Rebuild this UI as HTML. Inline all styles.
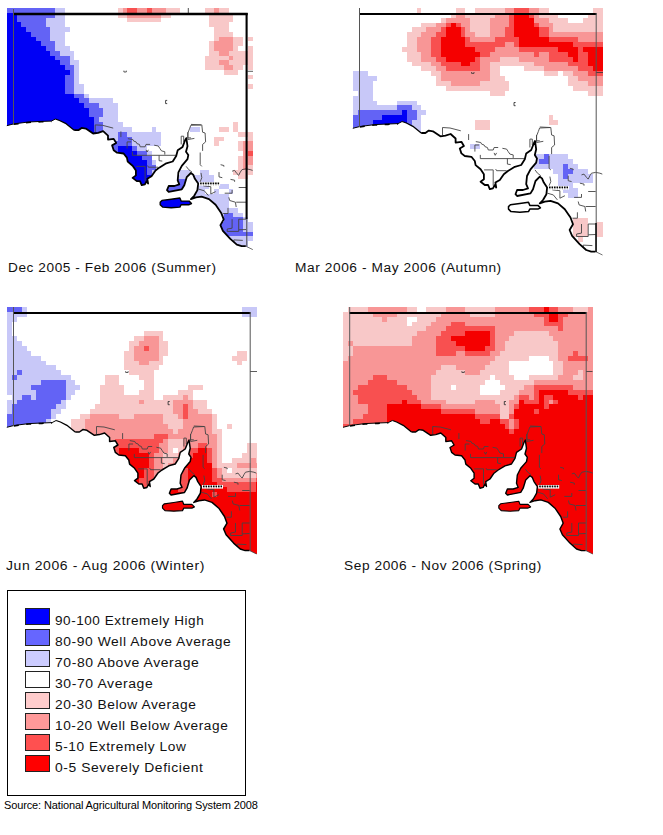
<!DOCTYPE html>
<html><head><meta charset="utf-8"><title>Rainfall deciles</title>
<style>
html,body{margin:0;padding:0;background:#fff;}
body{width:663px;height:835px;position:relative;overflow:hidden;font-family:"Liberation Sans",sans-serif;}
svg{position:absolute;left:0;top:0;}
.lab{position:absolute;font-size:12px;line-height:14px;color:#111;white-space:nowrap;letter-spacing:0.5px;transform-origin:0 0;}
.leg{position:absolute;left:7px;top:590px;width:237px;height:204px;border:1px solid #000;}
.sw{position:absolute;left:25px;width:23px;height:15px;border:1px solid #222;}
.lt{position:absolute;left:55px;font-size:12px;line-height:14px;color:#111;white-space:nowrap;letter-spacing:0.5px;transform-origin:0 0;}
.src{position:absolute;left:4px;top:798.8px;font-size:11px;line-height:13px;color:#000;white-space:nowrap;letter-spacing:-0.13px;}
</style></head><body>
<svg width="663" height="835" viewBox="0 0 663 835">
<g shape-rendering="crispEdges">
<path fill="#6363f5" d="M7 8h48v5h-48zM17 13h38v5h-38zM17 18h29v4h-29zM21 22h25v5h-25zM26 27h24v5h-24zM31 32h19v5h-19zM36 37h14v4h-14zM41 41h14v5h-14zM46 46h9v5h-9zM50 51h10v5h-10zM55 56h15v4h-15zM60 60h10v5h-10zM65 65h9v5h-9zM65 75h9v19h-9zM70 70h4v5h-4zM74 94h10v4h-10zM79 98h10v5h-10zM84 103h15v5h-15zM89 108h14v9h-14zM94 117h5v5h-5zM94 122h9v10h-9zM99 132h4v118h-4zM118 132h9v5h-9zM118 137h14v4h-14zM113 141h19v5h-19zM113 146h5v104h-5zM132 146h5v5h-5zM137 151h10v5h-10zM142 156h10v4h-10zM147 160h5v5h-5zM147 170h5v5h-5zM147 184h5v66h-5zM147 165h9v5h-9zM171 179h19v5h-19zM166 184h24v10h-24zM224 213h9v4h-9zM224 217h19v5h-19zM219 222h24v10h-24zM219 232h34v4h-34z"/>
<path fill="#c8c8f8" d="M55 8h10v10h-10zM55 41h10v5h-10zM46 18h19v9h-19zM50 27h20v5h-20zM50 32h15v9h-15zM55 46h15v5h-15zM60 51h14v5h-14zM70 56h4v4h-4zM70 60h9v5h-9zM74 65h5v19h-5zM74 84h10v10h-10zM84 94h5v4h-5zM89 98h24v5h-24zM99 103h19v5h-19zM99 117h19v5h-19zM103 108h15v9h-15zM103 132h15v9h-15zM103 122h20v5h-20zM103 127h29v5h-29zM152 127h4v5h-4zM152 160h4v5h-4zM152 170h4v80h-4zM190 127h10v5h-10zM127 132h34v5h-34zM132 137h29v9h-29zM103 141h10v109h-10zM137 146h10v5h-10zM147 151h5v5h-5zM180 170h10v5h-10zM200 170h9v5h-9zM171 175h43v4h-43zM166 179h5v5h-5zM190 179h24v5h-24zM161 184h5v10h-5zM190 184h19v5h-19zM219 184h10v5h-10zM190 189h15v5h-15zM214 189h5v5h-5zM229 189h4v5h-4zM166 194h63v4h-63zM209 198h20v10h-20zM209 208h29v5h-29zM209 213h15v9h-15zM233 213h10v4h-10zM243 217h5v5h-5zM209 222h10v14h-10zM243 222h10v10h-10zM209 236h44v5h-44zM209 241h39v9h-39z"/>
<path fill="#f8c8c8" d="M118 8h5v5h-5zM166 8h14v5h-14zM205 8h9v5h-9zM219 8h10v5h-10zM219 127h10v5h-10zM118 13h9v5h-9zM161 13h10v5h-10zM209 13h24v9h-24zM127 18h34v4h-34zM209 22h20v5h-20zM214 27h15v5h-15zM214 32h19v5h-19zM214 37h5v4h-5zM214 141h5v5h-5zM233 37h10v9h-10zM233 65h10v5h-10zM248 37h5v4h-5zM248 46h5v5h-5zM248 65h5v5h-5zM248 75h5v4h-5zM248 84h5v5h-5zM248 137h5v4h-5zM248 165h5v5h-5zM209 41h5v10h-5zM233 46h5v5h-5zM233 122h5v10h-5zM209 51h10v5h-10zM229 51h24v5h-24zM229 60h24v5h-24zM205 56h24v4h-24zM233 56h20v4h-20zM233 170h20v5h-20zM205 60h14v5h-14zM205 65h19v5h-19zM224 70h14v5h-14zM238 132h15v5h-15zM214 137h10v4h-10zM238 141h5v10h-5zM238 156h5v14h-5zM238 175h10v4h-10z"/>
<path fill="#f89696" d="M123 8h4v5h-4zM137 8h10v5h-10zM152 8h14v5h-14zM214 8h5v5h-5zM127 13h34v5h-34zM219 37h14v4h-14zM214 41h19v10h-19zM219 51h10v5h-10zM219 60h10v5h-10zM229 56h4v4h-4zM224 65h9v5h-9zM243 141h10v10h-10zM243 156h10v9h-10zM243 151h5v5h-5zM243 165h5v5h-5z"/>
<path fill="#f85050" d="M127 8h10v5h-10zM147 8h5v5h-5zM248 151h5v5h-5z"/>
<path fill="#0000f5" d="M7 13h10v9h-10zM7 22h14v5h-14zM7 27h19v5h-19zM7 32h24v5h-24zM7 37h29v4h-29zM7 41h34v5h-34zM7 46h39v5h-39zM7 51h43v5h-43zM7 56h48v4h-48zM7 60h53v5h-53zM7 65h58v5h-58zM7 75h58v19h-58zM7 70h63v5h-63zM7 94h67v4h-67zM7 98h72v5h-72zM7 103h77v5h-77zM7 108h82v9h-82zM7 117h87v15h-87zM7 132h92v118h-92zM118 146h14v5h-14zM118 151h19v5h-19zM118 156h24v4h-24zM118 160h29v15h-29zM118 184h29v66h-29zM118 175h34v9h-34z"/>
</g>
<path fill="#fff" d="M6.0 126.0 L6.8 125.7 L13.6 123.9 L28.4 122.0 L41.2 121.4 L51.4 121.1 L55.4 119.0 L59.5 120.5 L66.1 123.7 L74.2 130.2 L78.4 130.2 L81.6 127.9 L85.8 128.6 L93.1 133.5 L98.1 132.8 L103.1 131.2 L108.0 135.6 L108.0 139.6 L113.7 138.9 L116.2 143.0 L112.1 145.4 L113.7 150.2 L117.1 152.7 L123.6 153.5 L126.9 157.6 L127.7 161.6 L132.6 165.8 L135.9 170.5 L135.9 175.4 L132.6 177.9 L136.8 181.1 L140.0 181.1 L141.7 185.2 L144.9 184.4 L146.6 181.1 L148.1 183.6 L147.3 178.8 L151.5 176.2 L155.5 170.5 L159.6 167.4 L166.3 163.3 L172.7 161.5 L176.2 156.0 L177.7 150.2 L182.6 146.9 L185.0 140.5 L186.3 138.1 L187.5 146.2 L186.0 151.8 L188.3 155.1 L187.5 159.2 L181.8 165.8 L178.4 172.3 L177.7 180.3 L179.3 184.4 L174.4 186.0 L168.7 186.0 L167.0 190.1 L168.7 191.9 L181.8 189.3 L184.3 185.2 L186.7 177.2 L190.9 173.0 L193.2 174.7 L194.9 178.8 L198.2 183.6 L197.4 190.1 L194.2 195.8 L190.9 199.1 L195.9 197.4 L201.6 196.7 L209.0 199.1 L215.6 204.8 L221.2 212.9 L223.7 219.4 L220.4 225.1 L222.9 230.8 L230.3 238.9 L236.8 244.7 L241.7 246.2 L245.8 246.2 L252.8 249.6 L254.8 249.6 L254.8 253.5 L6.0 253.5 Z"/>
<path fill="#0000f5" stroke="#000" stroke-width="1.4" stroke-linejoin="round" d="M160.2 202.2 L162.0 200.4 L171.2 199.2 L179.9 198.0 L181.1 201.1 L189.1 201.1 L191.5 203.5 L189.1 204.7 L181.1 204.7 L179.9 207.1 L171.2 207.8 L162.6 207.1 L160.2 204.7 Z"/>
<path fill="none" stroke="#444" stroke-width="0.9" d="M95.2 132.2 L95.2 124.9 L102.5 125.3 L113.2 128.1"/>
<path fill="none" stroke="#444" stroke-width="0.9" d="M120.9 131.4 L120.9 137.1"/>
<path fill="none" stroke="#444" stroke-width="0.9" d="M127.1 148.5 L127.1 141.9 L131.2 141.9"/>
<path fill="none" stroke="#444" stroke-width="0.9" d="M127.9 138.7 L132.8 139.5 L133.7 141.1 L136.1 141.9 L136.9 143.6 L139.4 144.4 L140.2 146.8 L145.1 146.8 L146.0 144.4 L150.1 144.4"/>
<path fill="none" stroke="#444" stroke-width="0.9" d="M154.2 145.2 L158.3 146.0 L159.9 148.5 L161.5 150.9 L164.8 151.7 L164.8 154.6"/>
<path fill="none" stroke="#444" stroke-width="0.9" d="M132.4 151.7 L132.4 155.3 L176.3 155.3"/>
<path fill="none" stroke="#444" stroke-width="0.9" d="M159.1 155.3 L159.1 160.7 L162.3 161.1"/>
<path fill="none" stroke="#444" stroke-width="0.9" d="M136.1 166.4 L145.1 166.4 L145.1 181.8"/>
<path fill="none" stroke="#444" stroke-width="0.9" d="M147.6 165.5 L148.4 167.2 L158.3 167.2"/>
<path fill="none" stroke="#444" stroke-width="0.9" d="M146.0 149.8 L147.1 152.0 L148.4 149.8"/>
<path fill="none" stroke="#444" stroke-width="0.9" d="M181.2 144.4 L181.2 136.2 L183.7 136.2 L183.7 141.9"/>
<path fill="none" stroke="#444" stroke-width="0.9" d="M187.8 132.2 L187.8 137.9 L191.0 137.9"/>
<path fill="none" stroke="#444" stroke-width="0.9" d="M191.0 124.4 L201.0 124.9"/>
<path fill="none" stroke="#444" stroke-width="0.9" d="M187.9 139.5 L187.9 133.0 L189.5 128.9 L190.8 125.3 L201.8 124.9 L202.6 132.2 L205.1 133.0 L205.6 141.9 L202.6 144.4 L202.6 150.9"/>
<path fill="none" stroke="#444" stroke-width="0.9" d="M187.9 139.5 L194.4 138.4"/>
<path fill="none" stroke="#444" stroke-width="0.9" d="M232.1 171.2 L234.6 170.4 L237.0 173.7 L238.7 175.3 L240.3 172.1 L242.0 169.6 L246.1 168.8 L250.1 169.6 L252.6 170.4"/>
<path fill="none" stroke="#444" stroke-width="0.9" d="M220.6 164.7 L223.9 165.5 L223.9 166.7"/>
<path fill="none" stroke="#444" stroke-width="0.9" d="M219.0 172.1 L219.0 176.9 L222.3 177.7"/>
<path fill="none" stroke="#444" stroke-width="0.9" d="M230.5 179.4 L234.6 180.2 L234.6 181.8"/>
<path fill="none" stroke="#444" stroke-width="0.9" d="M238.7 187.5 L246.1 187.5"/>
<path fill="none" stroke="#444" stroke-width="0.9" d="M224.7 193.2 L232.1 193.2 L232.1 190.0"/>
<path fill="none" stroke="#444" stroke-width="0.9" d="M228.8 197.3 L229.7 200.5 L235.4 202.2 L236.2 207.0"/>
<path fill="none" stroke="#444" stroke-width="0.9" d="M236.2 202.2 L246.1 202.2"/>
<path fill="none" stroke="#444" stroke-width="0.9" d="M223.1 213.5 L228.0 213.5 L228.0 207.9"/>
<path fill="none" stroke="#444" stroke-width="0.9" d="M232.1 219.2 L232.1 228.2 L227.2 229.0 L227.2 231.4 L238.7 231.4 L238.7 229.8 L246.1 229.5"/>
<path fill="none" stroke="#444" stroke-width="0.9" d="M238.7 229.8 L238.7 219.2 L246.1 219.2"/>
<path fill="none" stroke="#444" stroke-width="0.9" d="M233.8 242.0 L233.8 239.9 L242.8 240.4"/>
<path fill="none" stroke="#444" stroke-width="0.9" d="M200.2 152.5 L200.2 164.7 L201.8 166.4"/>
<path fill="none" stroke="#444" stroke-width="0.9" d="M201.0 172.9 L201.8 177.7 L200.2 181.8"/>
<path fill="none" stroke="#444" stroke-width="0.9" d="M186.2 166.4 L188.7 169.6 L192.0 172.1"/>
<path fill="none" stroke="#444" stroke-width="0.9" d="M203.4 185.9 L210.8 186.7 L210.8 194.0 L215.7 191.6"/>
<path fill="none" stroke="#444" stroke-width="0.9" d="M198.5 189.1 L204.3 190.8 L208.4 195.6"/>
<path fill="none" stroke="#000" stroke-width="1.0" d="M6.8 125.7 L13.6 123.9 L28.4 122.0 L41.2 121.4 L51.4 121.1 L55.4 119.0"/>
<path fill="none" stroke="#000" stroke-width="1.3" stroke-linejoin="round" d="M55.4 119.0 L59.5 120.5 L66.1 123.7 L74.2 130.2"/>
<path fill="none" stroke="#000" stroke-width="1.5" stroke-dasharray="5 7.5" d="M13.6 124.3 L28.4 122.4 L41.2 121.8 L51.4 121.5"/>
<path fill="none" stroke="#000" stroke-width="1.8" stroke-linejoin="round" d="M74.2 130.2 L78.4 130.2 L81.6 127.9 L85.8 128.6 L93.1 133.5 L98.1 132.8 L103.1 131.2 L108.0 135.6 L108.0 139.6 L113.7 138.9 L116.2 143.0 L112.1 145.4 L113.7 150.2 L117.1 152.7 L123.6 153.5 L126.9 157.6 L127.7 161.6 L132.6 165.8 L135.9 170.5 L135.9 175.4 L132.6 177.9 L136.8 181.1 L140.0 181.1 L141.7 185.2 L144.9 184.4 L146.6 181.1 L148.1 183.6 L147.3 178.8 L151.5 176.2 L155.5 170.5 L159.6 167.4 L166.3 163.3 L172.7 161.5 L176.2 156.0 L177.7 150.2 L182.6 146.9 L185.0 140.5 L186.3 138.1 L187.5 146.2 L186.0 151.8 L188.3 155.1 L187.5 159.2 L181.8 165.8 L178.4 172.3 L177.7 180.3 L179.3 184.4 L174.4 186.0 L168.7 186.0 L167.0 190.1 L168.7 191.9 L181.8 189.3 L184.3 185.2 L186.7 177.2 L190.9 173.0 L193.2 174.7 L194.9 178.8 L198.2 183.6 L197.4 190.1 L194.2 195.8 L190.9 199.1 L195.9 197.4 L201.6 196.7 L209.0 199.1 L215.6 204.8 L221.2 212.9 L223.7 219.4 L220.4 225.1 L222.9 230.8 L230.3 238.9 L236.8 244.7 L241.7 246.2 L245.8 246.2"/>
<path fill="none" stroke="#333" stroke-width="0.7" d="M245.8 246.2 L252.8 249.6"/>
<path fill="none" stroke="#333" stroke-width="0.9" d="M167.2 100.4h-1.6v3.2h1.6"/>
<path fill="none" stroke="#333" stroke-width="0.8" d="M123.9 70.6v1.4h2.4v-1.4"/>
<rect x="199.1" y="182.1" width="21" height="3.6" fill="#fff"/>
<path stroke="#000" stroke-width="1.7" stroke-dasharray="1.6 0.9" d="M200.1 183.4h19"/>
<path stroke="#666" stroke-width="0.8" stroke-dasharray="0.8 1.7" d="M200.6 184.9h18"/>
<path stroke="#222" stroke-width="0.8" fill="none" d="M188.3 8V13"/>
<path stroke="#000" stroke-width="2.3" fill="none" d="M13 14H247.7"/>
<path stroke="#000" stroke-width="2.1" fill="none" d="M246.6 13V219"/>
<path stroke="#333" stroke-width="0.8" fill="none" d="M247 71.3H253"/>
<path stroke="#444" stroke-width="1" fill="none" d="M246.8 219V246"/>
<path stroke="#555" stroke-width="1" fill="none" d="M13.5 9V124"/>
<g shape-rendering="crispEdges">
<path fill="#f8c8c8" d="M417 8h4v5h-4zM456 8h9v5h-9zM475 8h30v5h-30zM539 8h10v5h-10zM593 8h10v5h-10zM451 13h5v5h-5zM465 13h30v5h-30zM539 13h19v5h-19zM588 13h15v5h-15zM588 91h15v5h-15zM441 18h5v5h-5zM470 18h20v14h-20zM549 18h19v5h-19zM583 18h20v5h-20zM421 23h15v4h-15zM421 66h15v5h-15zM553 23h50v9h-50zM412 27h14v5h-14zM407 32h14v5h-14zM407 52h14v10h-14zM475 32h15v5h-15zM475 120h15v10h-15zM407 37h10v10h-10zM402 47h15v5h-15zM500 57h19v5h-19zM412 62h19v4h-19zM490 62h44v4h-44zM490 66h10v10h-10zM524 66h20v5h-20zM431 71h10v5h-10zM544 71h14v5h-14zM563 71h10v5h-10zM436 76h5v5h-5zM490 76h15v5h-15zM490 91h15v5h-15zM568 76h10v5h-10zM436 81h15v5h-15zM480 81h29v5h-29zM568 81h20v5h-20zM446 86h63v5h-63zM573 86h30v5h-30zM549 115h4v5h-4zM549 120h9v5h-9zM573 218h15v19h-15zM597 222h6v15h-6zM578 237h5v5h-5z"/>
<path fill="#f89696" d="M505 8h9v5h-9zM505 42h9v5h-9zM529 8h10v5h-10zM456 13h9v5h-9zM495 13h14v5h-14zM534 13h5v5h-5zM446 18h24v5h-24zM490 18h19v9h-19zM534 18h15v5h-15zM436 23h10v4h-10zM436 66h10v5h-10zM461 23h9v4h-9zM539 23h14v4h-14zM426 27h15v5h-15zM465 27h5v5h-5zM490 27h15v10h-15zM549 27h4v5h-4zM421 32h15v5h-15zM421 57h15v5h-15zM465 32h10v5h-10zM549 32h54v5h-54zM417 37h14v15h-14zM470 37h25v5h-25zM578 37h25v5h-25zM578 76h25v5h-25zM495 47h24v5h-24zM421 52h10v5h-10zM490 52h44v5h-44zM539 52h10v5h-10zM480 57h20v5h-20zM519 57h30v5h-30zM431 62h10v4h-10zM480 62h10v9h-10zM534 62h34v4h-34zM544 66h34v5h-34zM441 71h49v10h-49zM573 71h15v5h-15zM451 81h29v5h-29zM588 81h15v5h-15z"/>
<path fill="#f85050" d="M514 8h15v5h-15zM509 13h5v14h-5zM529 13h5v5h-5zM446 23h5v4h-5zM456 23h5v4h-5zM534 23h5v4h-5zM534 52h5v5h-5zM441 27h5v5h-5zM461 27h4v10h-4zM505 27h9v10h-9zM539 27h10v10h-10zM436 32h10v5h-10zM436 57h10v5h-10zM431 37h10v20h-10zM465 37h5v5h-5zM495 37h24v5h-24zM549 37h29v5h-29zM465 42h40v5h-40zM514 42h5v5h-5zM573 42h30v5h-30zM475 47h20v5h-20zM519 47h39v5h-39zM578 47h5v5h-5zM480 52h10v5h-10zM549 52h19v5h-19zM578 52h10v10h-10zM475 57h5v5h-5zM549 57h24v5h-24zM441 62h20v4h-20zM470 62h10v4h-10zM568 62h20v4h-20zM446 66h34v5h-34zM578 66h15v5h-15zM588 71h15v5h-15z"/>
<path fill="#f50000" d="M514 13h15v5h-15zM514 18h20v9h-20zM451 23h5v4h-5zM446 27h15v10h-15zM514 27h25v10h-25zM441 37h24v10h-24zM519 37h30v5h-30zM519 42h54v5h-54zM441 47h34v5h-34zM558 47h20v5h-20zM583 47h20v5h-20zM441 52h39v5h-39zM568 52h10v5h-10zM588 52h15v14h-15zM446 57h29v5h-29zM573 57h5v5h-5zM461 62h9v4h-9zM593 66h10v5h-10z"/>
<path fill="#c8c8f8" d="M353 71h15v5h-15zM353 76h24v5h-24zM353 101h24v4h-24zM353 81h20v10h-20zM353 96h20v5h-20zM358 91h15v5h-15zM397 101h20v4h-20zM353 105h44v5h-44zM412 105h9v5h-9zM412 120h9v134h-9zM353 110h5v5h-5zM417 110h9v5h-9zM417 115h4v5h-4zM470 144h10v5h-10zM534 154h10v5h-10zM549 154h19v5h-19zM534 159h5v5h-5zM549 159h24v5h-24zM534 164h29v5h-29zM568 164h10v5h-10zM568 193h10v5h-10zM553 169h10v5h-10zM573 169h15v5h-15zM558 174h5v5h-5zM568 174h25v5h-25zM558 179h35v4h-35zM558 183h15v5h-15zM563 188h15v5h-15z"/>
<path fill="#6363f5" d="M397 105h15v5h-15zM358 110h44v5h-44zM407 110h10v10h-10zM353 115h29v5h-29zM353 120h20v134h-20zM407 120h5v107h-5zM544 154h5v5h-5zM539 159h10v5h-10zM563 164h5v5h-5zM563 174h5v5h-5zM563 169h10v5h-10zM402 227h10v27h-10z"/>
<path fill="#0000f5" d="M402 110h5v5h-5zM382 115h25v5h-25zM373 120h34v107h-34zM373 227h29v27h-29z"/>
</g>
<path fill="#fff" d="M352.0 128.6 L352.8 128.3 L359.8 126.5 L374.8 124.6 L387.8 124.0 L398.1 123.6 L402.1 121.5 L406.4 123.0 L412.9 126.3 L421.2 133.0 L425.4 133.0 L428.8 130.6 L432.9 131.3 L440.4 136.3 L445.4 135.6 L450.6 134.0 L455.6 138.5 L455.6 142.6 L461.4 141.8 L463.9 146.0 L459.8 148.5 L461.4 153.4 L464.8 156.0 L471.4 156.8 L474.8 161.0 L475.6 165.1 L480.6 169.3 L483.9 174.2 L483.9 179.2 L480.6 181.7 L484.8 185.0 L488.1 185.0 L489.8 189.2 L492.9 188.4 L494.8 185.0 L496.2 187.5 L495.4 182.6 L499.8 180.0 L503.8 174.2 L507.9 171.0 L514.8 166.8 L521.2 165.0 L524.8 159.3 L526.2 153.4 L531.2 150.0 L533.8 143.5 L535.0 141.0 L536.2 149.3 L534.8 155.0 L537.0 158.4 L536.2 162.6 L530.5 169.3 L527.0 176.0 L526.2 184.2 L528.0 188.4 L523.0 190.0 L517.1 190.0 L515.5 194.2 L517.1 196.0 L530.5 193.4 L533.0 189.2 L535.5 181.0 L539.8 176.7 L542.0 178.4 L543.8 182.6 L547.1 187.6 L546.4 194.2 L543.0 200.0 L539.8 203.4 L544.8 201.7 L550.5 200.9 L558.0 203.4 L564.8 209.2 L570.5 217.5 L573.0 224.2 L569.6 230.0 L572.1 235.8 L579.6 244.1 L586.2 250.0 L591.2 251.6 L595.5 251.6 L602.5 255.0 L605.0 255.0 L605.0 258.5 L352.0 258.5 Z"/>
<rect x="596.5" y="222" width="6.5" height="15" fill="#f8c8c8"/>
<path fill="#ffffff" stroke="#000" stroke-width="1.5" stroke-linejoin="round" d="M508.5 206.6 L510.4 204.8 L519.8 203.5 L528.5 202.2 L529.8 205.4 L537.9 205.4 L540.4 207.9 L537.9 209.1 L529.8 209.1 L528.5 211.6 L519.8 212.2 L511.0 211.6 L508.5 209.1 Z"/>
<path fill="none" stroke="#444" stroke-width="0.9" d="M442.5 135.0 L442.5 127.5 L450.0 128.0 L460.8 130.8"/>
<path fill="none" stroke="#444" stroke-width="0.9" d="M468.6 134.1 L468.6 140.0"/>
<path fill="none" stroke="#444" stroke-width="0.9" d="M474.9 151.6 L474.9 145.0 L479.1 145.0"/>
<path fill="none" stroke="#444" stroke-width="0.9" d="M475.8 141.6 L480.8 142.5 L481.6 144.1 L484.1 145.0 L484.9 146.6 L487.4 147.5 L488.3 150.0 L493.2 150.0 L494.1 147.5 L498.2 147.5"/>
<path fill="none" stroke="#444" stroke-width="0.9" d="M502.4 148.3 L506.6 149.1 L508.2 151.6 L509.9 154.1 L513.2 154.9 L513.2 157.9"/>
<path fill="none" stroke="#444" stroke-width="0.9" d="M480.3 154.9 L480.3 158.6 L524.9 158.6"/>
<path fill="none" stroke="#444" stroke-width="0.9" d="M507.4 158.6 L507.4 164.1 L510.7 164.6"/>
<path fill="none" stroke="#444" stroke-width="0.9" d="M484.1 169.9 L493.2 169.9 L493.2 185.7"/>
<path fill="none" stroke="#444" stroke-width="0.9" d="M495.7 169.1 L496.6 170.7 L506.6 170.7"/>
<path fill="none" stroke="#444" stroke-width="0.9" d="M494.1 152.9 L495.2 155.3 L496.6 152.9"/>
<path fill="none" stroke="#444" stroke-width="0.9" d="M529.9 147.5 L529.9 139.1 L532.3 139.1 L532.3 145.0"/>
<path fill="none" stroke="#444" stroke-width="0.9" d="M536.5 135.0 L536.5 140.8 L539.8 140.8"/>
<path fill="none" stroke="#444" stroke-width="0.9" d="M539.8 127.0 L550.0 127.5"/>
<path fill="none" stroke="#444" stroke-width="0.9" d="M536.6 142.5 L536.6 135.8 L538.3 131.6 L539.6 128.0 L550.8 127.5 L551.6 135.0 L554.1 135.8 L554.6 145.0 L551.6 147.5 L551.6 154.1"/>
<path fill="none" stroke="#444" stroke-width="0.9" d="M536.6 142.5 L543.3 141.3"/>
<path fill="none" stroke="#444" stroke-width="0.9" d="M581.5 174.9 L584.0 174.1 L586.5 177.4 L588.2 179.1 L589.9 175.7 L591.5 173.2 L595.7 172.4 L599.9 173.2 L602.3 174.1"/>
<path fill="none" stroke="#444" stroke-width="0.9" d="M569.9 168.3 L573.2 169.1 L573.2 170.2"/>
<path fill="none" stroke="#444" stroke-width="0.9" d="M568.2 175.7 L568.2 180.7 L571.6 181.6"/>
<path fill="none" stroke="#444" stroke-width="0.9" d="M579.9 183.2 L584.0 184.1 L584.0 185.7"/>
<path fill="none" stroke="#444" stroke-width="0.9" d="M588.2 191.5 L595.7 191.5"/>
<path fill="none" stroke="#444" stroke-width="0.9" d="M574.1 197.4 L581.5 197.4 L581.5 194.0"/>
<path fill="none" stroke="#444" stroke-width="0.9" d="M578.2 201.5 L579.1 204.9 L584.9 206.5 L585.7 211.5"/>
<path fill="none" stroke="#444" stroke-width="0.9" d="M585.7 206.5 L595.7 206.5"/>
<path fill="none" stroke="#444" stroke-width="0.9" d="M572.4 218.2 L577.4 218.2 L577.4 212.3"/>
<path fill="none" stroke="#444" stroke-width="0.9" d="M581.5 224.0 L581.5 233.1 L576.6 234.0 L576.6 236.5 L588.2 236.5 L588.2 234.8 L595.7 234.5"/>
<path fill="none" stroke="#444" stroke-width="0.9" d="M588.2 234.8 L588.2 224.0 L595.7 224.0"/>
<path fill="none" stroke="#444" stroke-width="0.9" d="M583.2 247.3 L583.2 245.1 L592.4 245.6"/>
<path fill="none" stroke="#444" stroke-width="0.9" d="M549.1 155.8 L549.1 168.3 L550.8 169.9"/>
<path fill="none" stroke="#444" stroke-width="0.9" d="M549.9 176.6 L550.8 181.6 L549.1 185.7"/>
<path fill="none" stroke="#444" stroke-width="0.9" d="M535.0 169.9 L537.5 173.2 L540.8 175.7"/>
<path fill="none" stroke="#444" stroke-width="0.9" d="M552.4 189.9 L559.9 190.7 L559.9 198.2 L564.9 195.7"/>
<path fill="none" stroke="#444" stroke-width="0.9" d="M547.4 193.2 L553.3 194.9 L557.4 199.9"/>
<path fill="none" stroke="#000" stroke-width="1.0" d="M352.8 128.3 L359.8 126.5 L374.8 124.6 L387.8 124.0 L398.1 123.6 L402.1 121.5"/>
<path fill="none" stroke="#000" stroke-width="1.3" stroke-linejoin="round" d="M402.1 121.5 L406.4 123.0 L412.9 126.3 L421.2 133.0"/>
<path fill="none" stroke="#000" stroke-width="1.5" stroke-dasharray="5 7.5" d="M359.8 126.9 L374.8 125.0 L387.8 124.4 L398.1 124.0"/>
<path fill="none" stroke="#000" stroke-width="1.8" stroke-linejoin="round" d="M421.2 133.0 L425.4 133.0 L428.8 130.6 L432.9 131.3 L440.4 136.3 L445.4 135.6 L450.6 134.0 L455.6 138.5 L455.6 142.6 L461.4 141.8 L463.9 146.0 L459.8 148.5 L461.4 153.4 L464.8 156.0 L471.4 156.8 L474.8 161.0 L475.6 165.1 L480.6 169.3 L483.9 174.2 L483.9 179.2 L480.6 181.7 L484.8 185.0 L488.1 185.0 L489.8 189.2 L492.9 188.4 L494.8 185.0 L496.2 187.5 L495.4 182.6 L499.8 180.0 L503.8 174.2 L507.9 171.0 L514.8 166.8 L521.2 165.0 L524.8 159.3 L526.2 153.4 L531.2 150.0 L533.8 143.5 L535.0 141.0 L536.2 149.3 L534.8 155.0 L537.0 158.4 L536.2 162.6 L530.5 169.3 L527.0 176.0 L526.2 184.2 L528.0 188.4 L523.0 190.0 L517.1 190.0 L515.5 194.2 L517.1 196.0 L530.5 193.4 L533.0 189.2 L535.5 181.0 L539.8 176.7 L542.0 178.4 L543.8 182.6 L547.1 187.6 L546.4 194.2 L543.0 200.0 L539.8 203.4 L544.8 201.7 L550.5 200.9 L558.0 203.4 L564.8 209.2 L570.5 217.5 L573.0 224.2 L569.6 230.0 L572.1 235.8 L579.6 244.1 L586.2 250.0 L591.2 251.6 L595.5 251.6"/>
<path fill="none" stroke="#333" stroke-width="0.7" d="M595.5 251.6 L602.5 255.0"/>
<path fill="none" stroke="#333" stroke-width="0.9" d="M515.6 102.5h-1.6v3.2h1.6"/>
<path fill="none" stroke="#333" stroke-width="0.8" d="M471.6 72.0v1.4h2.4v-1.4"/>
<rect x="548.0" y="186.0" width="21" height="3.6" fill="#fff"/>
<path stroke="#000" stroke-width="1.7" stroke-dasharray="1.6 0.9" d="M549.0 187.3h19"/>
<path stroke="#666" stroke-width="0.8" stroke-dasharray="0.8 1.7" d="M549.5 188.8h18"/>
<path stroke="#333" stroke-width="0.8" fill="none" d="M596 72.5H603"/>
<path stroke="#000" stroke-width="2" fill="none" d="M359 14.0H596.5"/>
<path stroke="#555" stroke-width="1" fill="none" d="M596.2 13V252"/>
<path stroke="#000" stroke-width="1.4" fill="none" d="M596 223V252"/>
<path stroke="#555" stroke-width="1" fill="none" d="M359.5 8V127"/>
<g shape-rendering="crispEdges">
<path fill="#6363f5" d="M7 307h15v5h-15zM17 370h5v5h-5zM12 375h5v5h-5zM41 380h25v5h-25zM31 385h35v5h-35zM36 390h30v10h-30zM22 395h9v5h-9zM17 400h44v4h-44zM12 404h44v5h-44zM12 409h39v5h-39zM7 414h44v5h-44zM7 419h39v135h-39z"/>
<path fill="#c8c8f8" d="M22 307h5v5h-5zM242 307h15v10h-15zM7 312h20v5h-20zM7 346h20v5h-20zM7 317h10v5h-10zM7 336h10v5h-10zM7 370h10v5h-10zM7 400h10v4h-10zM7 322h5v14h-5zM7 375h5v5h-5zM7 404h5v10h-5zM7 341h15v5h-15zM7 351h24v5h-24zM7 385h24v5h-24zM7 356h34v5h-34zM7 380h34v5h-34zM7 361h39v4h-39zM7 365h49v5h-49zM22 370h39v5h-39zM17 375h54v5h-54zM66 380h9v5h-9zM66 390h9v5h-9zM66 385h14v5h-14zM7 390h29v5h-29zM12 395h10v5h-10zM31 395h5v5h-5zM66 395h5v5h-5zM61 400h5v4h-5zM56 404h10v5h-10zM51 409h10v5h-10zM51 414h5v5h-5zM46 419h5v135h-5z"/>
<path fill="#f8c8c8" d="M144 331h19v5h-19zM134 336h10v5h-10zM159 336h4v5h-4zM159 356h4v5h-4zM129 341h10v5h-10zM159 341h9v15h-9zM129 346h5v5h-5zM124 351h10v10h-10zM237 351h10v5h-10zM232 356h15v5h-15zM124 361h15v4h-15zM149 361h14v4h-14zM237 361h5v4h-5zM124 365h35v5h-35zM129 370h25v5h-25zM105 375h14v10h-14zM139 375h15v5h-15zM139 390h15v5h-15zM144 380h10v10h-10zM100 385h24v10h-24zM188 385h15v5h-15zM178 390h15v5h-15zM100 395h54v5h-54zM163 395h20v5h-20zM163 419h20v5h-20zM188 395h5v5h-5zM100 400h39v4h-39zM144 400h29v4h-29zM193 400h14v9h-14zM95 404h78v5h-78zM90 409h83v5h-83zM198 409h14v5h-14zM80 414h10v5h-10zM119 414h15v5h-15zM163 414h15v5h-15zM163 453h15v5h-15zM212 414h5v15h-5zM71 419h14v135h-14zM168 424h15v5h-15zM168 439h15v9h-15zM227 424h5v5h-5zM173 429h5v5h-5zM212 429h10v5h-10zM217 434h5v29h-5zM247 443h10v10h-10zM168 448h5v5h-5zM178 448h5v5h-5zM242 453h15v5h-15zM163 458h10v5h-10zM232 458h19v5h-19zM256 458h1v5h-1zM163 463h5v5h-5zM217 463h20v5h-20zM222 468h5v5h-5zM232 468h25v5h-25zM222 473h34v5h-34z"/>
<path fill="#f89696" d="M144 336h15v5h-15zM139 341h20v5h-20zM134 346h10v5h-10zM149 346h10v5h-10zM149 487h10v5h-10zM134 351h25v10h-25zM139 361h10v4h-10zM183 395h5v5h-5zM183 448h5v5h-5zM139 400h5v4h-5zM173 400h20v4h-20zM173 404h10v10h-10zM173 458h10v5h-10zM188 404h5v5h-5zM188 409h10v5h-10zM90 414h29v5h-29zM134 414h29v5h-29zM178 414h5v5h-5zM178 453h5v5h-5zM188 414h24v5h-24zM85 419h78v5h-78zM183 419h29v10h-29zM85 424h83v5h-83zM85 429h88v5h-88zM178 429h34v5h-34zM85 434h69v5h-69zM168 434h49v5h-49zM85 439h30v48h-30zM163 439h5v4h-5zM183 439h34v4h-34zM159 443h9v10h-9zM183 443h15v5h-15zM207 443h10v5h-10zM212 448h5v20h-5zM154 453h9v15h-9zM251 458h5v5h-5zM168 463h15v5h-15zM237 463h20v5h-20zM154 468h24v19h-24zM217 468h5v10h-5zM256 473h1v5h-1zM222 478h34v4h-34zM85 487h34v5h-34zM85 492h74v5h-74zM85 497h93v57h-93z"/>
<path fill="#f85050" d="M144 346h5v5h-5zM183 404h5v15h-5zM183 458h5v5h-5zM154 434h14v5h-14zM115 439h48v4h-48zM115 443h44v5h-44zM198 443h9v5h-9zM115 448h4v39h-4zM139 448h20v5h-20zM188 448h10v5h-10zM207 448h5v15h-5zM149 453h5v15h-5zM183 453h10v5h-10zM144 468h10v10h-10zM178 468h10v24h-10zM212 468h5v10h-5zM212 492h5v5h-5zM139 478h15v9h-15zM212 478h10v4h-10zM256 478h1v4h-1zM217 482h39v5h-39zM119 487h30v5h-30zM227 487h29v5h-29zM178 497h15v57h-15z"/>
<path fill="#f50000" d="M119 448h20v5h-20zM119 478h20v9h-20zM198 448h9v5h-9zM119 453h30v15h-30zM193 453h14v5h-14zM188 458h19v5h-19zM183 463h29v5h-29zM119 468h25v10h-25zM188 468h24v14h-24zM188 482h29v5h-29zM256 482h1v10h-1zM159 487h19v5h-19zM188 487h39v5h-39zM159 492h53v5h-53zM217 492h40v5h-40zM193 497h64v57h-64z"/>
</g>
<path fill="#fff" d="M6.0 427.6 L6.8 427.3 L13.8 425.5 L28.8 423.6 L41.8 423.0 L52.1 422.6 L56.1 420.5 L60.4 422.0 L66.9 425.3 L75.2 432.0 L79.4 432.0 L82.8 429.6 L86.9 430.3 L94.4 435.3 L99.4 434.6 L104.6 433.0 L109.6 437.5 L109.6 441.6 L115.4 440.8 L117.9 445.0 L113.8 447.5 L115.4 452.4 L118.8 455.0 L125.4 455.8 L128.8 460.0 L129.6 464.1 L134.6 468.3 L137.9 473.2 L137.9 478.2 L134.6 480.7 L138.8 484.0 L142.1 484.0 L143.8 488.2 L146.9 487.4 L148.8 484.0 L150.2 486.5 L149.4 481.6 L153.8 479.0 L157.8 473.2 L161.9 470.0 L168.8 465.8 L175.2 464.0 L178.8 458.3 L180.2 452.4 L185.2 449.0 L187.8 442.5 L189.0 440.0 L190.2 448.3 L188.8 454.0 L191.0 457.4 L190.2 461.6 L184.5 468.3 L181.0 475.0 L180.2 483.2 L182.0 487.4 L177.0 489.0 L171.1 489.0 L169.4 493.2 L171.1 495.0 L184.5 492.4 L187.0 488.2 L189.5 480.0 L193.8 475.7 L196.0 477.4 L197.8 481.6 L201.1 486.6 L200.4 493.2 L197.0 499.0 L193.8 502.4 L198.8 500.7 L204.5 499.9 L212.0 502.4 L218.8 508.2 L224.5 516.5 L227.0 523.2 L223.6 529.0 L226.1 534.8 L233.6 543.1 L240.2 549.0 L245.2 550.6 L249.5 550.6 L256.5 554.0 L259.0 554.0 L259.0 557.5 L6.0 557.5 Z"/>
<path fill="#f50000" stroke="#000" stroke-width="1.2" stroke-linejoin="round" d="M162.5 505.6 L164.4 503.8 L173.8 502.5 L182.5 501.2 L183.8 504.4 L191.9 504.4 L194.4 506.9 L191.9 508.1 L183.8 508.1 L182.5 510.6 L173.8 511.2 L165.0 510.6 L162.5 508.1 Z"/>
<path fill="none" stroke="#444" stroke-width="0.9" d="M96.5 434.0 L96.5 426.5 L104.0 427.0 L114.8 429.8"/>
<path fill="none" stroke="#444" stroke-width="0.9" d="M122.6 433.1 L122.6 439.0"/>
<path fill="none" stroke="#444" stroke-width="0.9" d="M128.9 450.6 L128.9 444.0 L133.1 444.0"/>
<path fill="none" stroke="#444" stroke-width="0.9" d="M129.8 440.6 L134.8 441.5 L135.6 443.1 L138.1 444.0 L138.9 445.6 L141.4 446.5 L142.3 449.0 L147.2 449.0 L148.1 446.5 L152.2 446.5"/>
<path fill="none" stroke="#444" stroke-width="0.9" d="M156.4 447.3 L160.6 448.1 L162.2 450.6 L163.9 453.1 L167.2 453.9 L167.2 456.9"/>
<path fill="none" stroke="#444" stroke-width="0.9" d="M134.3 453.9 L134.3 457.6 L178.9 457.6"/>
<path fill="none" stroke="#444" stroke-width="0.9" d="M161.4 457.6 L161.4 463.1 L164.7 463.6"/>
<path fill="none" stroke="#444" stroke-width="0.9" d="M138.1 468.9 L147.2 468.9 L147.2 484.7"/>
<path fill="none" stroke="#444" stroke-width="0.9" d="M149.7 468.1 L150.6 469.7 L160.6 469.7"/>
<path fill="none" stroke="#444" stroke-width="0.9" d="M148.1 451.9 L149.2 454.3 L150.6 451.9"/>
<path fill="none" stroke="#444" stroke-width="0.9" d="M183.9 446.5 L183.9 438.1 L186.3 438.1 L186.3 444.0"/>
<path fill="none" stroke="#444" stroke-width="0.9" d="M190.5 434.0 L190.5 439.8 L193.8 439.8"/>
<path fill="none" stroke="#444" stroke-width="0.9" d="M193.8 426.0 L204.0 426.5"/>
<path fill="none" stroke="#444" stroke-width="0.9" d="M190.6 441.5 L190.6 434.8 L192.3 430.6 L193.6 427.0 L204.8 426.5 L205.6 434.0 L208.1 434.8 L208.6 444.0 L205.6 446.5 L205.6 453.1"/>
<path fill="none" stroke="#444" stroke-width="0.9" d="M190.6 441.5 L197.3 440.3"/>
<path fill="none" stroke="#444" stroke-width="0.9" d="M235.5 473.9 L238.0 473.1 L240.5 476.4 L242.2 478.1 L243.9 474.7 L245.5 472.2 L249.7 471.4 L253.9 472.2 L256.3 473.1"/>
<path fill="none" stroke="#444" stroke-width="0.9" d="M223.9 467.3 L227.2 468.1 L227.2 469.2"/>
<path fill="none" stroke="#444" stroke-width="0.9" d="M222.2 474.7 L222.2 479.7 L225.6 480.6"/>
<path fill="none" stroke="#444" stroke-width="0.9" d="M233.9 482.2 L238.0 483.1 L238.0 484.7"/>
<path fill="none" stroke="#444" stroke-width="0.9" d="M242.2 490.5 L249.7 490.5"/>
<path fill="none" stroke="#444" stroke-width="0.9" d="M228.1 496.4 L235.5 496.4 L235.5 493.0"/>
<path fill="none" stroke="#444" stroke-width="0.9" d="M232.2 500.5 L233.1 503.9 L238.9 505.5 L239.7 510.5"/>
<path fill="none" stroke="#444" stroke-width="0.9" d="M239.7 505.5 L249.7 505.5"/>
<path fill="none" stroke="#444" stroke-width="0.9" d="M226.4 517.2 L231.4 517.2 L231.4 511.3"/>
<path fill="none" stroke="#444" stroke-width="0.9" d="M235.5 523.0 L235.5 532.1 L230.6 533.0 L230.6 535.5 L242.2 535.5 L242.2 533.8 L249.7 533.5"/>
<path fill="none" stroke="#444" stroke-width="0.9" d="M242.2 533.8 L242.2 523.0 L249.7 523.0"/>
<path fill="none" stroke="#444" stroke-width="0.9" d="M237.2 546.3 L237.2 544.1 L246.4 544.6"/>
<path fill="none" stroke="#444" stroke-width="0.9" d="M203.1 454.8 L203.1 467.3 L204.8 468.9"/>
<path fill="none" stroke="#444" stroke-width="0.9" d="M203.9 475.6 L204.8 480.6 L203.1 484.7"/>
<path fill="none" stroke="#444" stroke-width="0.9" d="M189.0 468.9 L191.5 472.2 L194.8 474.7"/>
<path fill="none" stroke="#444" stroke-width="0.9" d="M206.4 488.9 L213.9 489.7 L213.9 497.2 L218.9 494.7"/>
<path fill="none" stroke="#444" stroke-width="0.9" d="M201.4 492.2 L207.3 493.9 L211.4 498.9"/>
<path fill="none" stroke="#000" stroke-width="1.0" d="M6.8 427.3 L13.8 425.5 L28.8 423.6 L41.8 423.0 L52.1 422.6 L56.1 420.5"/>
<path fill="none" stroke="#000" stroke-width="1.3" stroke-linejoin="round" d="M56.1 420.5 L60.4 422.0 L66.9 425.3 L75.2 432.0"/>
<path fill="none" stroke="#000" stroke-width="1.5" stroke-dasharray="5 7.5" d="M13.8 425.9 L28.8 424.0 L41.8 423.4 L52.1 423.0"/>
<path fill="none" stroke="#000" stroke-width="1.5" stroke-linejoin="round" d="M75.2 432.0 L79.4 432.0 L82.8 429.6 L86.9 430.3 L94.4 435.3 L99.4 434.6 L104.6 433.0 L109.6 437.5 L109.6 441.6 L115.4 440.8 L117.9 445.0 L113.8 447.5 L115.4 452.4 L118.8 455.0 L125.4 455.8 L128.8 460.0 L129.6 464.1 L134.6 468.3 L137.9 473.2 L137.9 478.2 L134.6 480.7 L138.8 484.0 L142.1 484.0 L143.8 488.2 L146.9 487.4 L148.8 484.0 L150.2 486.5 L149.4 481.6 L153.8 479.0 L157.8 473.2 L161.9 470.0 L168.8 465.8 L175.2 464.0 L178.8 458.3 L180.2 452.4 L185.2 449.0 L187.8 442.5 L189.0 440.0 L190.2 448.3 L188.8 454.0 L191.0 457.4 L190.2 461.6 L184.5 468.3 L181.0 475.0 L180.2 483.2 L182.0 487.4 L177.0 489.0 L171.1 489.0 L169.4 493.2 L171.1 495.0 L184.5 492.4 L187.0 488.2 L189.5 480.0 L193.8 475.7 L196.0 477.4 L197.8 481.6 L201.1 486.6 L200.4 493.2 L197.0 499.0 L193.8 502.4 L198.8 500.7 L204.5 499.9 L212.0 502.4 L218.8 508.2 L224.5 516.5 L227.0 523.2 L223.6 529.0 L226.1 534.8 L233.6 543.1 L240.2 549.0 L245.2 550.6 L249.5 550.6"/>
<path fill="none" stroke="#333" stroke-width="0.7" d="M249.5 550.6 L256.5 554.0"/>
<path fill="none" stroke="#333" stroke-width="0.9" d="M169.7 401.5h-1.6v3.2h1.6"/>
<path fill="none" stroke="#333" stroke-width="0.8" d="M125.7 371.1v1.4h2.4v-1.4"/>
<rect x="202.0" y="485.0" width="21" height="3.6" fill="#fff"/>
<path stroke="#000" stroke-width="1.7" stroke-dasharray="1.6 0.9" d="M203.0 486.3h19"/>
<path stroke="#666" stroke-width="0.8" stroke-dasharray="0.8 1.7" d="M203.5 487.8h18"/>
<path stroke="#333" stroke-width="0.8" fill="none" d="M250 371.5H257"/>
<path stroke="#000" stroke-width="2" fill="none" d="M13 313.0H250.5"/>
<path stroke="#555" stroke-width="1" fill="none" d="M250.2 312V551"/>
<path stroke="#555" stroke-width="1" fill="none" d="M13.5 307V426"/>
<g shape-rendering="crispEdges">
<path fill="#f89696" d="M343 307h5v5h-5zM368 307h39v5h-39zM446 307h19v5h-19zM495 307h34v5h-34zM558 307h15v5h-15zM558 351h15v5h-15zM558 375h15v5h-15zM588 307h5v5h-5zM588 356h5v5h-5zM373 312h24v5h-24zM441 312h29v5h-29zM495 312h39v5h-39zM568 312h25v5h-25zM382 317h5v5h-5zM436 317h108v5h-108zM563 317h30v14h-30zM563 361h30v9h-30zM431 322h20v4h-20zM465 322h79v4h-79zM426 326h20v5h-20zM495 326h63v5h-63zM417 331h24v5h-24zM495 331h19v5h-19zM549 331h44v5h-44zM412 336h24v10h-24zM495 336h14v5h-14zM553 336h40v5h-40zM348 341h5v5h-5zM495 341h10v10h-10zM558 341h35v10h-35zM353 346h83v10h-83zM456 351h9v5h-9zM490 351h10v5h-10zM578 351h15v5h-15zM348 356h147v5h-147zM558 356h10v5h-10zM343 361h147v4h-147zM343 365h98v5h-98zM456 365h29v5h-29zM343 370h93v5h-93zM465 370h15v5h-15zM563 370h15v5h-15zM583 370h10v10h-10zM343 375h30v5h-30zM387 375h44v5h-44zM343 380h25v5h-25zM343 404h25v10h-25zM397 380h34v5h-34zM534 380h59v5h-59zM343 385h15v5h-15zM343 395h15v9h-15zM407 385h24v5h-24zM524 385h10v5h-10zM573 385h20v5h-20zM343 390h10v5h-10zM343 419h10v5h-10zM412 390h19v5h-19zM519 390h15v5h-15zM417 395h14v5h-14zM514 395h5v5h-5zM529 395h5v5h-5zM421 400h25v4h-25zM475 400h20v4h-20zM509 400h10v4h-10zM549 400h4v4h-4zM441 404h59v5h-59zM509 404h5v10h-5zM509 419h5v10h-5zM475 409h25v5h-25zM343 414h20v5h-20zM343 429h20v125h-20zM353 424h10v5h-10z"/>
<path fill="#f8c8c8" d="M348 307h20v5h-20zM407 307h10v5h-10zM426 307h20v5h-20zM465 307h30v5h-30zM573 307h15v5h-15zM343 312h30v5h-30zM397 312h44v5h-44zM470 312h25v5h-25zM343 317h39v5h-39zM387 317h20v5h-20zM417 317h19v5h-19zM343 322h64v4h-64zM412 322h19v4h-19zM343 326h83v5h-83zM343 331h74v5h-74zM514 331h35v5h-35zM343 336h69v5h-69zM509 336h44v5h-44zM343 341h5v5h-5zM343 356h5v5h-5zM353 341h59v5h-59zM505 341h53v10h-53zM343 346h10v10h-10zM500 351h58v5h-58zM495 356h34v5h-34zM549 356h9v5h-9zM490 361h19v4h-19zM553 361h10v14h-10zM441 365h15v5h-15zM485 365h24v5h-24zM436 370h29v5h-29zM480 370h29v5h-29zM578 370h5v5h-5zM431 375h59v5h-59zM495 375h19v5h-19zM529 375h29v5h-29zM573 375h10v5h-10zM431 380h54v5h-54zM500 380h34v5h-34zM431 385h20v5h-20zM456 385h24v5h-24zM505 385h19v5h-19zM431 390h49v5h-49zM500 390h19v5h-19zM431 395h83v5h-83zM446 400h29v4h-29zM495 400h14v4h-14zM500 404h9v15h-9z"/>
<path fill="#f85050" d="M529 307h15v5h-15zM549 307h9v5h-9zM534 312h15v5h-15zM558 312h10v5h-10zM544 317h5v5h-5zM544 400h5v9h-5zM558 317h5v5h-5zM558 326h5v5h-5zM451 322h14v4h-14zM544 322h19v4h-19zM446 326h49v5h-49zM441 331h24v5h-24zM490 331h5v15h-5zM436 336h15v5h-15zM436 341h20v5h-20zM436 351h20v5h-20zM436 346h29v5h-29zM485 346h10v5h-10zM465 351h25v5h-25zM573 351h5v5h-5zM568 356h20v5h-20zM373 375h14v5h-14zM368 380h29v5h-29zM358 385h49v5h-49zM534 385h39v5h-39zM353 390h59v5h-59zM534 390h5v10h-5zM534 409h5v5h-5zM568 390h25v5h-25zM358 395h59v5h-59zM519 395h10v5h-10zM544 395h9v5h-9zM578 395h5v5h-5zM358 400h44v4h-44zM407 400h14v4h-14zM524 400h15v4h-15zM553 400h5v4h-5zM368 404h19v10h-19zM421 404h20v5h-20zM514 404h5v5h-5zM514 419h5v10h-5zM441 409h34v5h-34zM363 414h24v5h-24zM363 424h24v130h-24zM475 414h25v5h-25zM509 414h5v5h-5zM509 429h5v5h-5zM353 419h34v5h-34zM480 419h10v5h-10zM500 419h9v5h-9zM343 424h10v5h-10zM505 424h4v5h-4z"/>
<path fill="#f50000" d="M544 307h5v5h-5zM549 312h9v10h-9zM465 331h25v5h-25zM451 336h39v5h-39zM456 341h34v5h-34zM465 346h20v5h-20zM539 390h29v5h-29zM539 395h5v9h-5zM553 395h25v5h-25zM583 395h10v5h-10zM402 400h5v4h-5zM519 400h5v4h-5zM558 400h35v4h-35zM387 404h34v5h-34zM519 404h25v5h-25zM549 404h44v5h-44zM387 409h54v5h-54zM514 409h20v5h-20zM539 409h54v5h-54zM387 414h88v5h-88zM514 414h79v5h-79zM514 429h79v5h-79zM387 419h93v5h-93zM490 419h10v5h-10zM519 419h74v10h-74zM387 424h118v5h-118zM387 429h122v5h-122zM387 434h206v120h-206z"/>
</g>
<path fill="#fff" d="M342.2 427.6 L343.0 427.3 L350.0 425.5 L365.0 423.6 L378.0 423.0 L388.3 422.6 L392.4 420.5 L396.6 422.0 L403.2 425.3 L411.5 432.0 L415.7 432.0 L419.0 429.6 L423.2 430.3 L430.7 435.3 L435.7 434.6 L440.8 433.0 L445.8 437.5 L445.8 441.6 L451.6 440.8 L454.1 445.0 L450.0 447.5 L451.6 452.4 L455.0 455.0 L461.6 455.8 L465.0 460.0 L465.8 464.1 L470.8 468.3 L474.1 473.2 L474.1 478.2 L470.8 480.7 L475.0 484.0 L478.3 484.0 L480.0 488.2 L483.2 487.4 L485.0 484.0 L486.5 486.5 L485.7 481.6 L490.0 479.0 L494.0 473.2 L498.2 470.0 L505.0 465.8 L511.5 464.0 L515.0 458.3 L516.5 452.4 L521.5 449.0 L524.0 442.5 L525.3 440.0 L526.5 448.3 L525.0 454.0 L527.3 457.4 L526.5 461.6 L520.7 468.3 L517.3 475.0 L516.5 483.2 L518.2 487.4 L513.2 489.0 L507.4 489.0 L505.7 493.2 L507.4 495.0 L520.7 492.4 L523.2 488.2 L525.7 480.0 L530.0 475.7 L532.3 477.4 L534.0 481.6 L537.4 486.6 L536.6 493.2 L533.3 499.0 L530.0 502.4 L535.0 500.7 L540.8 499.9 L548.3 502.4 L555.0 508.2 L560.7 516.5 L563.2 523.2 L559.9 529.0 L562.4 534.8 L569.9 543.1 L576.5 549.0 L581.5 550.6 L585.7 550.6 L592.8 554.0 L594.9 554.0 L594.9 557.5 L342.2 557.5 Z"/>
<rect x="342" y="306" width="6" height="6" fill="#fff"/>
<path fill="#f50000" stroke="#000" stroke-width="1.1" stroke-linejoin="round" d="M498.8 505.6 L500.6 503.8 L510.0 502.5 L518.8 501.2 L520.0 504.4 L528.1 504.4 L530.6 506.9 L528.1 508.1 L520.0 508.1 L518.8 510.6 L510.0 511.2 L501.2 510.6 L498.8 508.1 Z"/>
<path fill="none" stroke="#444" stroke-width="0.9" d="M432.7 434.0 L432.7 426.5 L440.2 427.0 L451.0 429.8"/>
<path fill="none" stroke="#444" stroke-width="0.9" d="M458.9 433.1 L458.9 439.0"/>
<path fill="none" stroke="#444" stroke-width="0.9" d="M465.2 450.6 L465.2 444.0 L469.4 444.0"/>
<path fill="none" stroke="#444" stroke-width="0.9" d="M466.0 440.6 L471.0 441.5 L471.8 443.1 L474.3 444.0 L475.2 445.6 L477.7 446.5 L478.5 449.0 L483.5 449.0 L484.3 446.5 L488.5 446.5"/>
<path fill="none" stroke="#444" stroke-width="0.9" d="M492.6 447.3 L496.8 448.1 L498.5 450.6 L500.1 453.1 L503.5 453.9 L503.5 456.9"/>
<path fill="none" stroke="#444" stroke-width="0.9" d="M470.5 453.9 L470.5 457.6 L515.1 457.6"/>
<path fill="none" stroke="#444" stroke-width="0.9" d="M497.6 457.6 L497.6 463.1 L501.0 463.6"/>
<path fill="none" stroke="#444" stroke-width="0.9" d="M474.3 468.9 L483.5 468.9 L483.5 484.7"/>
<path fill="none" stroke="#444" stroke-width="0.9" d="M486.0 468.1 L486.8 469.7 L496.8 469.7"/>
<path fill="none" stroke="#444" stroke-width="0.9" d="M484.3 451.9 L485.5 454.3 L486.8 451.9"/>
<path fill="none" stroke="#444" stroke-width="0.9" d="M520.1 446.5 L520.1 438.1 L522.6 438.1 L522.6 444.0"/>
<path fill="none" stroke="#444" stroke-width="0.9" d="M526.8 434.0 L526.8 439.8 L530.1 439.8"/>
<path fill="none" stroke="#444" stroke-width="0.9" d="M530.1 426.0 L540.2 426.5"/>
<path fill="none" stroke="#444" stroke-width="0.9" d="M526.9 441.5 L526.9 434.8 L528.5 430.6 L529.9 427.0 L541.0 426.5 L541.8 434.0 L544.3 434.8 L544.8 444.0 L541.8 446.5 L541.8 453.1"/>
<path fill="none" stroke="#444" stroke-width="0.9" d="M526.9 441.5 L533.5 440.3"/>
<path fill="none" stroke="#444" stroke-width="0.9" d="M571.8 473.9 L574.3 473.1 L576.8 476.4 L578.5 478.1 L580.1 474.7 L581.8 472.2 L585.9 471.4 L590.1 472.2 L592.6 473.1"/>
<path fill="none" stroke="#444" stroke-width="0.9" d="M560.2 467.3 L563.5 468.1 L563.5 469.2"/>
<path fill="none" stroke="#444" stroke-width="0.9" d="M558.5 474.7 L558.5 479.7 L561.8 480.6"/>
<path fill="none" stroke="#444" stroke-width="0.9" d="M570.1 482.2 L574.3 483.1 L574.3 484.7"/>
<path fill="none" stroke="#444" stroke-width="0.9" d="M578.5 490.5 L585.9 490.5"/>
<path fill="none" stroke="#444" stroke-width="0.9" d="M564.3 496.4 L571.8 496.4 L571.8 493.0"/>
<path fill="none" stroke="#444" stroke-width="0.9" d="M568.5 500.5 L569.3 503.9 L575.1 505.5 L576.0 510.5"/>
<path fill="none" stroke="#444" stroke-width="0.9" d="M576.0 505.5 L585.9 505.5"/>
<path fill="none" stroke="#444" stroke-width="0.9" d="M562.6 517.2 L567.6 517.2 L567.6 511.3"/>
<path fill="none" stroke="#444" stroke-width="0.9" d="M571.8 523.0 L571.8 532.1 L566.8 533.0 L566.8 535.5 L578.5 535.5 L578.5 533.8 L585.9 533.5"/>
<path fill="none" stroke="#444" stroke-width="0.9" d="M578.5 533.8 L578.5 523.0 L585.9 523.0"/>
<path fill="none" stroke="#444" stroke-width="0.9" d="M573.5 546.3 L573.5 544.1 L582.6 544.6"/>
<path fill="none" stroke="#444" stroke-width="0.9" d="M539.4 454.8 L539.4 467.3 L541.0 468.9"/>
<path fill="none" stroke="#444" stroke-width="0.9" d="M540.2 475.6 L541.0 480.6 L539.4 484.7"/>
<path fill="none" stroke="#444" stroke-width="0.9" d="M525.2 468.9 L527.7 472.2 L531.0 474.7"/>
<path fill="none" stroke="#444" stroke-width="0.9" d="M542.7 488.9 L550.2 489.7 L550.2 497.2 L555.2 494.7"/>
<path fill="none" stroke="#444" stroke-width="0.9" d="M537.7 492.2 L543.5 493.9 L547.7 498.9"/>
<path fill="none" stroke="#000" stroke-width="1.0" d="M343.0 427.3 L350.0 425.5 L365.0 423.6 L378.0 423.0 L388.3 422.6 L392.4 420.5"/>
<path fill="none" stroke="#000" stroke-width="1.3" stroke-linejoin="round" d="M392.4 420.5 L396.6 422.0 L403.2 425.3 L411.5 432.0"/>
<path fill="none" stroke="#000" stroke-width="1.5" stroke-dasharray="5 7.5" d="M350.0 425.9 L365.0 424.0 L378.0 423.4 L388.3 423.0"/>
<path fill="none" stroke="#000" stroke-width="1.4" stroke-linejoin="round" d="M411.5 432.0 L415.7 432.0 L419.0 429.6 L423.2 430.3 L430.7 435.3 L435.7 434.6 L440.8 433.0 L445.8 437.5 L445.8 441.6 L451.6 440.8 L454.1 445.0 L450.0 447.5 L451.6 452.4 L455.0 455.0 L461.6 455.8 L465.0 460.0 L465.8 464.1 L470.8 468.3 L474.1 473.2 L474.1 478.2 L470.8 480.7 L475.0 484.0 L478.3 484.0 L480.0 488.2 L483.2 487.4 L485.0 484.0 L486.5 486.5 L485.7 481.6 L490.0 479.0 L494.0 473.2 L498.2 470.0 L505.0 465.8 L511.5 464.0 L515.0 458.3 L516.5 452.4 L521.5 449.0 L524.0 442.5 L525.3 440.0 L526.5 448.3 L525.0 454.0 L527.3 457.4 L526.5 461.6 L520.7 468.3 L517.3 475.0 L516.5 483.2 L518.2 487.4 L513.2 489.0 L507.4 489.0 L505.7 493.2 L507.4 495.0 L520.7 492.4 L523.2 488.2 L525.7 480.0 L530.0 475.7 L532.3 477.4 L534.0 481.6 L537.4 486.6 L536.6 493.2 L533.3 499.0 L530.0 502.4 L535.0 500.7 L540.8 499.9 L548.3 502.4 L555.0 508.2 L560.7 516.5 L563.2 523.2 L559.9 529.0 L562.4 534.8 L569.9 543.1 L576.5 549.0 L581.5 550.6 L585.7 550.6"/>
<path fill="none" stroke="#333" stroke-width="0.7" d="M585.7 550.6 L592.8 554.0"/>
<path fill="none" stroke="#333" stroke-width="0.9" d="M505.9 401.5h-1.6v3.2h1.6"/>
<path fill="none" stroke="#333" stroke-width="0.8" d="M461.9 371.1v1.4h2.4v-1.4"/>
<rect x="538.2" y="485.0" width="21" height="3.6" fill="#fff"/>
<path stroke="#000" stroke-width="1.7" stroke-dasharray="1.6 0.9" d="M539.2 486.3h19"/>
<path stroke="#666" stroke-width="0.8" stroke-dasharray="0.8 1.7" d="M539.8 487.8h18"/>
<path stroke="#333" stroke-width="0.8" fill="none" d="M586 371.5H592.5"/>
<path stroke="#000" stroke-width="2" fill="none" d="M349 313.0H586.5"/>
<path stroke="#555" stroke-width="1" fill="none" d="M586.2 312V551"/>
<path stroke="#555" stroke-width="1" fill="none" d="M349.7 307V426"/>
</svg>
<div class="lab" id="l1" style="transform:scaleX(1.137);left:7.5px;top:260.5px;">Dec 2005 - Feb 2006 (Summer)</div>
<div class="lab" id="l2" style="transform:scaleX(1.144);left:295px;top:260.5px;">Mar 2006 - May 2006 (Autumn)</div>
<div class="lab" id="l3" style="transform:scaleX(1.165);left:6.2px;top:559px;">Jun 2006 - Aug 2006 (Winter)</div>
<div class="lab" id="l4" style="transform:scaleX(1.141);left:343.5px;top:559px;">Sep 2006 - Nov 2006 (Spring)</div>
<div class="leg"></div>
<div class="sw" style="top:608px;background:#0000ff"></div><div class="lt" id="t1" style="transform:scaleX(1.126);top:614px">90-100 Extremely High</div>
<div class="sw" style="top:629px;background:#6666ff"></div><div class="lt" id="t2" style="transform:scaleX(1.153);top:635px">80-90 Well Above Average</div>
<div class="sw" style="top:650px;background:#ccccff"></div><div class="lt" id="t3" style="transform:scaleX(1.164);top:656px">70-80 Above Average</div>
<div class="sw" style="top:671px;background:#ffffff"></div><div class="lt" id="t4" style="transform:scaleX(1.166);top:677px">30-70 Average</div>
<div class="sw" style="top:692px;background:#ffcccc"></div><div class="lt" id="t5" style="transform:scaleX(1.146);top:698px">20-30 Below Average</div>
<div class="sw" style="top:713px;background:#ff9999"></div><div class="lt" id="t6" style="transform:scaleX(1.138);top:719px">10-20 Well Below Average</div>
<div class="sw" style="top:734px;background:#ff5050"></div><div class="lt" id="t7" style="transform:scaleX(1.142);top:740px">5-10 Extremely Low</div>
<div class="sw" style="top:755px;background:#ff0000"></div><div class="lt" id="t8" style="transform:scaleX(1.156);top:761px">0-5 Severely Deficient</div>
<div class="src" id="src">Source: National Agricultural Monitoring System 2008</div>
</body></html>
